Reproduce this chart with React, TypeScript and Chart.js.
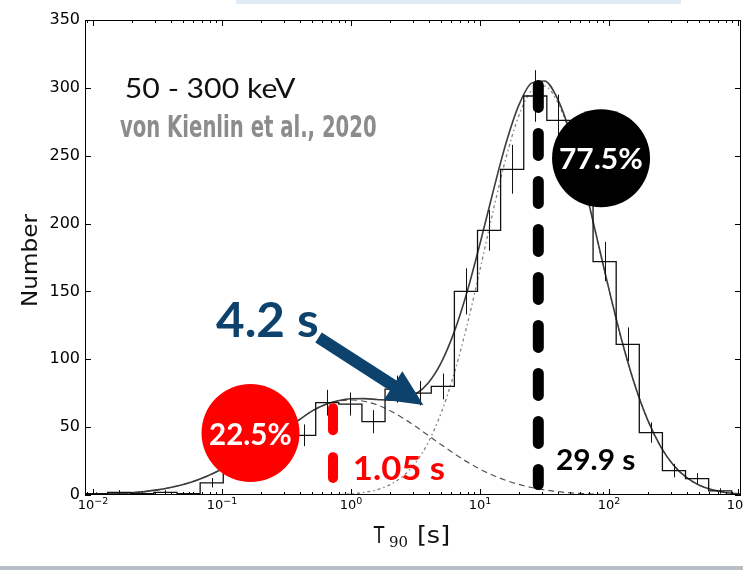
import React, { useEffect, useRef } from "react";
import { Chart, registerables } from "chart.js";

Chart.register(...registerables);

// ---------------- data ----------------
// histogram bin edges (T90 in s), counts and error bars
const binEdges = [0.008607, 0.013002, 0.019648, 0.02967, 0.04482, 0.0677, 0.10228, 0.15448, 0.2334, 0.3525, 0.5325, 0.8043, 1.215, 1.8354, 2.7725, 4.1879, 6.3265, 9.5612, 14.44, 21.813, 32.949, 49.779, 75.19, 113.6, 171.6, 259.21, 391.56, 591.56, 893.53];
const binCounts = [1, 2, 1, 2, 1, 9, 17, 27, 38, 44, 68, 67, 54, 78, 75, 80, 150, 195, 240, 294, 276, 238, 172, 111, 46, 18, 12, 3];
const binErrors = [1, 1.6, 1.2, 1.6, 1.2, 3.5, 4.8, 6, 7, 8, 9.5, 8.5, 8.5, 10, 9, 9.5, 17, 15, 18, 19, 19, 18, 14.5, 12.5, 7.5, 5, 4, 2];

// fit curves sampled at log10(T90)
const curveLogT = [-2.07, -2.0, -1.9, -1.8, -1.7, -1.6, -1.5, -1.4, -1.3, -1.2, -1.1, -1.0, -0.9, -0.8, -0.7, -0.6, -0.5, -0.4, -0.3, -0.2, -0.1, 0.0, 0.1, 0.2, 0.3, 0.4, 0.5, 0.6, 0.7, 0.8, 0.9, 1.0, 1.1, 1.2, 1.3, 1.4, 1.5, 1.6, 1.7, 1.8, 1.9, 2.0, 2.1, 2.2, 2.3, 2.4, 2.5, 2.6, 2.7, 2.8, 2.9, 3.0, 3.03];
const totalFit = [0.27, 0.39, 0.64, 1.03, 1.63, 2.51, 3.75, 5.47, 7.77, 10.76, 14.5, 19.1, 24.4, 30.5, 37.0, 43.5, 49.0, 55.5, 62.0, 66.7, 69.5, 70.9, 71.0, 70.4, 69.8, 70.5, 74.3, 82.8, 97.8, 120.2, 149.8, 185.3, 223.1, 258.8, 287.1, 303.5, 305.1, 292.1, 266.6, 231.8, 191.9, 151.3, 113.5, 81.1, 55.2, 35.7, 22.0, 12.9, 7.2, 3.8, 1.9, 0.9, 0.7];
const shortFit = [0.27, 0.39, 0.64, 1.03, 1.63, 2.51, 3.75, 5.47, 7.77, 10.76, 14.5, 19.1, 24.4, 30.5, 37.0, 43.5, 49.0, 55.5, 62.0, 66.5, 69.1, 70.0, 69.1, 66.5, 62.3, 56.8, 50.6, 43.8, 37.0, 30.5, 24.4, 19.1, 14.5, 10.8, 7.8, 5.5, 3.8, 2.5, 1.6, 1.0, 0.6, 0.4, 0.2, 0.1, 0.07, 0.04, 0.02, 0, 0, 0, 0, 0, 0];
const longFit = [0, 0, 0, 0, 0, 0, 0, 0, 0, 0, 0, 0, 0, 0, 0, 0, 0, 0.02, 0.06, 0.16, 0.38, 0.88, 1.89, 3.85, 7.45, 13.7, 23.7, 39.0, 60.8, 89.7, 125.4, 166.2, 208.6, 248.0, 279.3, 298.0, 301.3, 289.6, 265.0, 230.8, 191.3, 150.9, 113.3, 81.0, 55.1, 35.7, 22.0, 12.9, 7.2, 3.8, 1.9, 0.9, 0.7];

// axes
const xMin = 0.00867;
const xMax = 1054;
const yTicks = [0, 50, 100, 150, 200, 250, 300, 350];
const xDecades = [-2, -1, 0, 1, 2, 3];

// annotations (data coordinates)
const redCircle = { t: 0.1663, v: 45.7, r: 49, label: "22.5%" };
const blackCircle = { t: 86.7, v: 248.1, r: 49, label: "77.5%" };
const redMark = { t: 0.725, from: 12.5, to: 64 };
const blackMark = { t: 28.3, from: 7.7, to: 301.8 };
const arrowFrom = { t: 0.56, v: 116 };
const arrowTo = { t: 3.64, v: 66.3 };

const NAVY = "#0c426c";

const texts = [
  { text: "50 - 300 keV", x0: 126, x1: 296, base: 97.5, font: "400 26px Lato", color: "#111" },
  { text: "von Kienlin et al., 2020", x0: 120, x1: 376, base: 137, font: "700 30px 'Liberation Sans Narrow', 'DejaVu Sans Condensed', Roboto", color: "#8c8c8c" },
  { text: "4.2 s", x0: 216, x1: 318, base: 337, font: "700 47px Lato", color: NAVY },
  { text: "1.05 s", x0: 355, x1: 445, base: 480, font: "700 32px Lato", color: "#ff0000" },
  { text: "29.9 s", x0: 557, x1: 635, base: 470, font: "700 28px Lato", color: "#000" },
];

function fitText(ctx: CanvasRenderingContext2D, text: string, x0: number, x1: number, base: number, font: string, color: string) {
  ctx.save();
  ctx.font = font;
  ctx.fillStyle = color;
  ctx.textAlign = "left";
  ctx.textBaseline = "alphabetic";
  const m = ctx.measureText(text);
  const inkL = m.actualBoundingBoxLeft || 0;
  const inkW = (m.actualBoundingBoxRight || m.width) + inkL;
  const sx = (x1 - x0) / inkW;
  ctx.translate(x0 + inkL * sx, base);
  ctx.scale(sx, 1);
  ctx.fillText(text, 0, 0);
  ctx.restore();
}

const decorPlugin = {
  id: "decor",
  afterDatasetsDraw(chart: any) {
    const ctx: CanvasRenderingContext2D = chart.ctx;
    const xs = chart.scales.x;
    const ys = chart.scales.y;
    const { left, right, top, bottom } = chart.chartArea;
    ctx.save();
    ctx.beginPath();
    ctx.rect(left, top, right - left, bottom - top);
    ctx.clip();
    // error bars
    ctx.strokeStyle = "#111";
    ctx.lineWidth = 1;
    for (let i = 0; i < binCounts.length; i++) {
      const c = Math.sqrt(binEdges[i] * binEdges[i + 1]);
      const x = Math.round(xs.getPixelForValue(c)) + 0.5;
      ctx.beginPath();
      ctx.moveTo(x, ys.getPixelForValue(binCounts[i] - binErrors[i]));
      ctx.lineTo(x, ys.getPixelForValue(binCounts[i] + binErrors[i]));
      ctx.stroke();
    }
    ctx.restore();

    // frame
    ctx.save();
    ctx.strokeStyle = "#000";
    ctx.lineWidth = 1;
    ctx.strokeRect(left + 0.5, top + 0.5, right - left - 1, bottom - top - 1);
    // y ticks (inward, both sides)
    ctx.beginPath();
    for (const v of yTicks) {
      const y = Math.round(ys.getPixelForValue(v)) + 0.5;
      ctx.moveTo(left, y); ctx.lineTo(left + 6, y);
      ctx.moveTo(right, y); ctx.lineTo(right - 6, y);
    }
    // x ticks (inward, top and bottom), majors and log minors
    for (let d = -3; d <= 3; d++) {
      for (let m = 1; m <= 9; m++) {
        const tv = m * Math.pow(10, d);
        if (tv < xMin || tv > xMax) continue;
        const x = Math.round(xs.getPixelForValue(tv)) + 0.5;
        const len = m === 1 ? 6 : 3;
        ctx.moveTo(x, bottom); ctx.lineTo(x, bottom - len);
        ctx.moveTo(x, top); ctx.lineTo(x, top + len);
      }
    }
    ctx.stroke();

    // x tick labels 10^n
    ctx.fillStyle = "#000";
    ctx.textBaseline = "alphabetic";
    ctx.textAlign = "left";
    const baseFont = "13px 'DejaVu Sans'";
    const expFont = "9.5px 'DejaVu Sans'";
    for (const d of xDecades) {
      const x = xs.getPixelForValue(Math.pow(10, d));
      const exp = d < 0 ? "\u2212" + Math.abs(d) : String(d);
      ctx.font = baseFont;
      const wb = ctx.measureText("10").width;
      ctx.font = expFont;
      const we = ctx.measureText(exp).width;
      const x0 = x - (wb + we) / 2;
      ctx.font = baseFont;
      ctx.fillText("10", x0, 509);
      ctx.font = expFont;
      ctx.fillText(exp, x0 + wb, 504);
    }

    // axis titles
    fitText(ctx, "T", 373, 385, 543, "23px 'DejaVu Sans'", "#111");
    fitText(ctx, "90", 389, 407, 547, "14px 'DejaVu Serif'", "#111");
    fitText(ctx, "[s]", 418, 448, 543, "23px 'DejaVu Sans'", "#111");
    ctx.save();
    ctx.translate(37, 305);
    ctx.rotate(-Math.PI / 2);
    fitText(ctx, "Number", 0, 92, 0, "22px 'DejaVu Sans'", "#111");
    ctx.restore();
    ctx.restore();
  },
  afterDraw(chart: any) {
    const ctx: CanvasRenderingContext2D = chart.ctx;
    const xs = chart.scales.x;
    const ys = chart.scales.y;
    const px = (t: number) => xs.getPixelForValue(t);
    const py = (v: number) => ys.getPixelForValue(v);
    ctx.save();

    // vertical dashed markers
    ctx.lineCap = "round";
    ctx.strokeStyle = "#ff0000";
    ctx.lineWidth = 10;
    ctx.setLineDash([22, 27]);
    ctx.beginPath();
    ctx.moveTo(px(redMark.t), py(redMark.to));
    ctx.lineTo(px(redMark.t), py(redMark.from));
    ctx.stroke();

    ctx.strokeStyle = "#000";
    ctx.lineWidth = 11;
    ctx.setLineDash([22, 26]);
    ctx.beginPath();
    ctx.moveTo(px(blackMark.t), py(blackMark.to));
    ctx.lineTo(px(blackMark.t), py(blackMark.from));
    ctx.stroke();
    ctx.setLineDash([]);

    // circles
    ctx.fillStyle = "#ff0000";
    ctx.beginPath();
    ctx.arc(px(redCircle.t), py(redCircle.v), redCircle.r, 0, Math.PI * 2);
    ctx.fill();
    ctx.fillStyle = "#000";
    ctx.beginPath();
    ctx.arc(px(blackCircle.t), py(blackCircle.v), blackCircle.r, 0, Math.PI * 2);
    ctx.fill();
    fitText(ctx, redCircle.label, 210, 291, 445, "700 30px Lato", "#fff");
    fitText(ctx, blackCircle.label, 560, 642, 169, "700 29px Lato", "#fff");

    // arrow
    const ax0 = px(arrowFrom.t), ay0 = py(arrowFrom.v);
    const ax1 = px(arrowTo.t), ay1 = py(arrowTo.v);
    const dx = ax1 - ax0, dy = ay1 - ay0;
    const len = Math.hypot(dx, dy);
    const ux = dx / len, uy = dy / len;
    const nx = -uy, ny = ux;
    const headLen = 36, halfW = 17;
    const bx = ax1 - ux * headLen, by = ay1 - uy * headLen;
    ctx.strokeStyle = NAVY;
    ctx.fillStyle = NAVY;
    ctx.lineCap = "butt";
    ctx.lineWidth = 12;
    ctx.beginPath();
    ctx.moveTo(ax0, ay0);
    ctx.lineTo(bx + ux * 2, by + uy * 2);
    ctx.stroke();
    ctx.beginPath();
    ctx.moveTo(ax1, ay1);
    ctx.lineTo(bx + nx * halfW, by + ny * halfW);
    ctx.lineTo(bx - nx * halfW, by - ny * halfW);
    ctx.closePath();
    ctx.fill();

    for (const t of texts) fitText(ctx, t.text, t.x0, t.x1, t.base, t.font, t.color);
    ctx.restore();
  },
};

export default function App() {
  const ref = useRef<HTMLCanvasElement>(null);
  useEffect(() => {
    const canvas = ref.current;
    if (!canvas) return;
    const histPoints = [{ x: binEdges[0], y: 0 }]
      .concat(binCounts.map((c, i) => ({ x: binEdges[i], y: c })))
      .concat([{ x: binEdges[binEdges.length - 1], y: 0 }]);
    const curve = (vals: number[]) => curveLogT.map((l, i) => ({ x: Math.pow(10, l), y: vals[i] }));
    const chart = new Chart(canvas, {
      type: "line",
      data: {
        datasets: [
          { label: "hist", data: histPoints, borderColor: "#111", borderWidth: 1.3, stepped: true, pointRadius: 0, fill: false, order: 1 } as any,
          { label: "total", data: curve(totalFit), borderColor: "#3c3c3c", borderWidth: 1.6, pointRadius: 0, fill: false, cubicInterpolationMode: "monotone", order: 2 } as any,
          { label: "short", data: curve(shortFit), borderColor: "#555", borderWidth: 1.2, borderDash: [6, 4], pointRadius: 0, fill: false, cubicInterpolationMode: "monotone", order: 3 } as any,
          { label: "long", data: curve(longFit), borderColor: "#808080", borderWidth: 1.3, borderDash: [3, 3, 1.5, 3], pointRadius: 0, fill: false, cubicInterpolationMode: "monotone", order: 4 } as any,
        ],
      },
      options: {
        animation: false,
        responsive: false,
        devicePixelRatio: 1,
        layout: { padding: { top: 20, right: 2, left: 0, bottom: 0 } },
        plugins: { legend: { display: false }, tooltip: { enabled: false }, title: { display: false } },
        scales: {
          x: {
            type: "logarithmic",
            min: xMin,
            max: xMax,
            grid: { display: false, drawTicks: false },
            border: { display: false },
            ticks: { display: false },
            afterFit: (s: any) => { s.height = 75; },
          },
          y: {
            type: "linear",
            min: 0,
            max: 350,
            grid: { display: false, drawTicks: false },
            border: { display: false },
            ticks: { stepSize: 50, color: "#000", padding: 5, font: { family: "'DejaVu Sans'", size: 16 } },
            afterFit: (s: any) => { s.width = 85; },
          },
        },
      } as any,
      plugins: [decorPlugin as any],
    });
    return () => chart.destroy();
  }, []);
  return (
    <div style={{ position: "fixed", left: 0, top: 0, width: 743, height: 570, background: "#fff", overflow: "hidden" }}>
      <div style={{ position: "absolute", left: 236, top: 0, width: 445, height: 4, background: "#e1ebf5" }} />
      <canvas ref={ref} width={743} height={570} style={{ position: "absolute", left: 0, top: 0, width: 743, height: 570 }} />
      <div style={{ position: "absolute", left: 0, top: 566, width: 743, height: 4, background: "#b8bfc6" }} />
    </div>
  );
}
